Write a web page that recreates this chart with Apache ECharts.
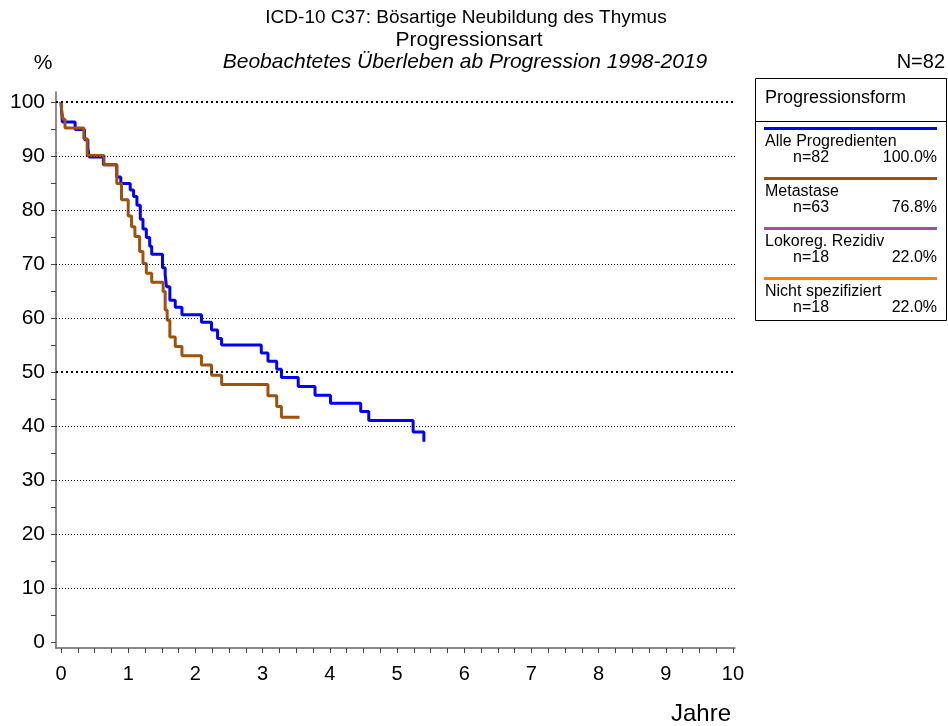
<!DOCTYPE html>
<html>
<head>
<meta charset="utf-8">
<script src="https://cdn.jsdelivr.net/npm/echarts@6/dist/echarts.min.js"></script>
<style>html,body{margin:0;padding:0;background:#fff}#c{width:948px;height:726px}</style>
</head>
<body>
<div id="c"></div>
<script>
// ---- Data ----
const titleLines = ['ICD-10 C37: Bösartige Neubildung des Thymus', 'Progressionsart', 'Beobachtetes Überleben ab Progression 1998-2019'];
const totalN = 'N=82';
const xTickLabels = [0,1,2,3,4,5,6,7,8,9,10];
const xMinorTicks = [0,0.25,0.5,0.75,1,1.25,1.5,1.75,2,2.25,2.5,2.75,3,3.25,3.5,3.75,4,4.25,4.5,4.75,5,5.25,5.5,5.75,6,6.25,6.5,6.75,7,7.25,7.5,7.75,8,8.25,8.5,8.75,9,9.25,9.5,9.75,10];
const yTickLabels = [0,10,20,30,40,50,60,70,80,90,100];
const yMinorTicks = [0,5,10,15,20,25,30,35,40,45,50,55,60,65,70,75,80,85,90,95,100];
const gridLinesThin = [10,20,30,40,60,70,80,90];
const gridLinesThick = [50,100];

const alleTimes = [0,0.02,0.21,0.35,0.40,0.42,0.63,0.83,0.89,1.03,1.08,1.13,1.18,1.22,1.27,1.32,1.35,1.51,1.55,1.57,1.62,1.70,1.80,2.09,2.24,2.33,2.39,2.98,3.08,3.21,3.28,3.53,3.78,4.01,4.46,4.58,5.24,5.40];
const alleSurv  = [100,96.3,94.9,93.0,91.5,89.8,88.4,86.1,84.9,83.7,82.5,80.9,78.3,76.5,74.9,73.3,71.8,69.3,68.0,65.8,63.3,62.0,60.6,59.2,57.8,56.2,55.0,53.5,52.0,50.5,49.0,47.3,45.7,44.2,42.7,41.0,38.9,37.1];
const metTimes = [0,0.01,0.03,0.06,0.34,0.39,0.64,0.83,0.90,1.00,1.05,1.10,1.17,1.22,1.27,1.35,1.52,1.55,1.58,1.62,1.70,1.80,2.09,2.24,2.39,3.08,3.21,3.28,3.55];
const metSurv  = [100,98.4,96.8,95.2,93.2,90.1,88.4,84.9,81.9,78.9,76.9,75.1,72.3,70.1,68.3,66.6,64.9,61.5,59.6,56.5,54.7,53.0,51.3,49.4,47.7,45.6,43.6,41.6,41.6];

const legendTitle = 'Progressionsform';
const legendNames = ['Alle Progredienten', 'Metastase', 'Lokoreg. Rezidiv', 'Nicht spezifiziert'];
const legendN = ['n=82', 'n=63', 'n=18', 'n=18'];
const legendPct = ['100.0%', '76.8%', '22.0%', '22.0%'];
const colors = ['#0000FF', '#A0520A', '#A050A0', '#FF8000'];

// ---- Chart ----
const FONT = '"Liberation Sans", Arial, sans-serif';
const chart = echarts.init(document.getElementById('c'), null, {renderer: 'canvas'});
const zip = (t, s) => t.map((v, i) => [v, s[i]]);

const graphics = [];
graphics.push({type:'text', x:466, y:18, style:{text:titleLines[0], font:'19px '+FONT, fill:'#000', textAlign:'center', textVerticalAlign:'middle'}});
graphics.push({type:'text', x:469, y:40, style:{text:titleLines[1], font:'21px '+FONT, fill:'#000', textAlign:'center', textVerticalAlign:'middle'}});
graphics.push({type:'text', x:465, y:62, style:{text:titleLines[2], font:'italic 21px '+FONT, fill:'#000', textAlign:'center', textVerticalAlign:'middle'}});
graphics.push({type:'text', x:43, y:63, style:{text:'%', font:'21px '+FONT, fill:'#000', textAlign:'center', textVerticalAlign:'middle'}});
graphics.push({type:'text', x:945, y:62, style:{text:totalN, font:'20px '+FONT, fill:'#000', textAlign:'right', textVerticalAlign:'middle'}});
graphics.push({type:'text', x:701, y:714, style:{text:'Jahre', font:'24px '+FONT, fill:'#000', textAlign:'center', textVerticalAlign:'middle'}});

// legend box
graphics.push({type:'rect', shape:{x:755.5, y:78.5, width:191, height:242}, style:{fill:'#fff', stroke:'#000', lineWidth:1}});
graphics.push({type:'line', shape:{x1:755, y1:121.5, x2:946, y2:121.5}, style:{stroke:'#000', lineWidth:1}});
graphics.push({type:'text', x:765, y:98.5, style:{text:legendTitle, font:'18px '+FONT, fill:'#000', textVerticalAlign:'middle'}});
legendNames.forEach((nm, i) => {
  const y0 = 128.5 + i * 50;
  graphics.push({type:'line', shape:{x1:764, y1:y0, x2:937, y2:y0}, style:{stroke:colors[i], lineWidth:3}});
  graphics.push({type:'text', x:765, y:y0 + 13.5, style:{text:nm, font:'16px '+FONT, fill:'#000', textVerticalAlign:'middle'}});
  graphics.push({type:'text', x:793, y:y0 + 29.5, style:{text:legendN[i], font:'16px '+FONT, fill:'#000', textVerticalAlign:'middle'}});
  graphics.push({type:'text', x:937, y:y0 + 29.5, style:{text:legendPct[i], font:'16px '+FONT, fill:'#000', textAlign:'right', textVerticalAlign:'middle'}});
});

const markData = gridLinesThin.map(v => ({yAxis: v, lineStyle:{color:'#000', width:1, type:[1,2]}}))
  .concat(gridLinesThick.map(v => ({yAxis: v, lineStyle:{color:'#000', width:2, type:[2,3]}})));

const option = {
  animation: false,
  backgroundColor: '#fff',
  grid: {left:56, right:213, top:92, bottom:78, containLabel:false},
  xAxis: {
    type:'value', min:-0.0744, max:10.03,
    axisLine:{show:true, onZero:false, lineStyle:{color:'#666', width:1.5}},
    axisTick:{show:true, inside:false, length:5, customValues:xMinorTicks, lineStyle:{color:'#444', width:1}},
    axisLabel:{show:true, customValues:xTickLabels, margin:16, fontSize:20, fontFamily:FONT, color:'#000'},
    splitLine:{show:false}
  },
  yAxis: {
    type:'value', min:-1.11, max:101.85,
    axisLine:{show:true, onZero:false, lineStyle:{color:'#666', width:1.5}},
    axisTick:{show:true, inside:false, length:5, customValues:yMinorTicks, lineStyle:{color:'#444', width:1}},
    axisLabel:{show:true, customValues:yTickLabels, margin:11, fontSize:21, fontFamily:FONT, color:'#000'},
    splitLine:{show:false}
  },
  series: [
    {name:legendNames[1], type:'line', step:'end', showSymbol:false, data:zip(metTimes, metSurv),
     lineStyle:{color:colors[1], width:3}, itemStyle:{color:colors[1]}, z:3},
    {name:legendNames[0], type:'line', step:'end', showSymbol:false, data:zip(alleTimes, alleSurv),
     lineStyle:{color:colors[0], width:3}, itemStyle:{color:colors[0]}, z:2,
     markLine:{silent:true, symbol:'none', label:{show:false}, data:markData, animation:false}}
  ],
  graphic: graphics
};
chart.setOption(option);
</script>
</body>
</html>
